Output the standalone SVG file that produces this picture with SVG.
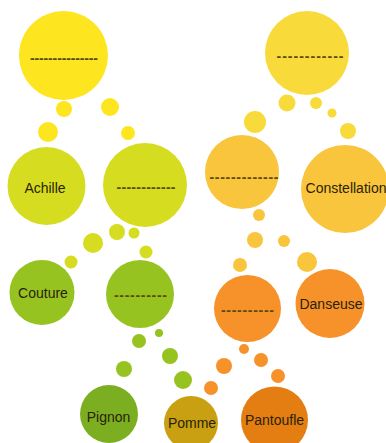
<svg xmlns="http://www.w3.org/2000/svg" width="386" height="443" viewBox="0 0 386 443">
<style>
  text { font-family: "Liberation Sans", Arial, sans-serif; font-size: 14px; text-anchor: middle; fill: #2a2208; }
  .dash { fill: #5a4a10; font-weight: bold; }
  .y1 { fill: #FDE61F; }
  .y2 { fill: #F8DB3B; }
  .yg { fill: #D6DC1F; }
  .gold { fill: #F9C53C; }
  .g1 { fill: #97C321; }
  .g2 { fill: #7CAE22; }
  .olive { fill: #C9A011; }
  .o1 { fill: #F7922B; }
  .o2 { fill: #E47E12; }
</style>
<rect width="386" height="443" fill="#ffffff"/>
<g id="connectors">
  <circle class="y1" cx="64" cy="109" r="8"/>
  <circle class="y1" cx="110" cy="107" r="9"/>
  <circle class="y1" cx="48" cy="132" r="10"/>
  <circle class="y1" cx="128" cy="133" r="7"/>
  <circle class="y2" cx="287" cy="103" r="8.5"/>
  <circle class="y2" cx="316" cy="103" r="6"/>
  <circle class="y2" cx="332" cy="113" r="4.5"/>
  <circle class="y2" cx="348" cy="131" r="8"/>
  <circle class="y2" cx="255" cy="122" r="11"/>
  <circle class="yg" cx="93" cy="243" r="10"/>
  <circle class="yg" cx="117" cy="232" r="8"/>
  <circle class="yg" cx="134" cy="233" r="5.5"/>
  <circle class="yg" cx="146" cy="252" r="6.5"/>
  <circle class="yg" cx="71" cy="262" r="6.5"/>
  <circle class="gold" cx="259" cy="215" r="6"/>
  <circle class="gold" cx="255" cy="240" r="8"/>
  <circle class="gold" cx="284" cy="241" r="6"/>
  <circle class="gold" cx="307" cy="262" r="10"/>
  <circle class="gold" cx="240" cy="265" r="7"/>
  <circle class="g1" cx="139" cy="341" r="7"/>
  <circle class="g1" cx="159" cy="333" r="4"/>
  <circle class="g1" cx="170" cy="356" r="8"/>
  <circle class="g1" cx="124" cy="369" r="8"/>
  <circle class="g1" cx="183" cy="380" r="9"/>
  <circle class="o1" cx="244" cy="349" r="5"/>
  <circle class="o1" cx="224" cy="366" r="8"/>
  <circle class="o1" cx="261" cy="360" r="7"/>
  <circle class="o1" cx="278" cy="376" r="7"/>
  <circle class="o1" cx="211" cy="388" r="7"/>
</g>
<g id="node-top-left">
  <circle class="y1" cx="63.5" cy="55.5" r="44.5"/>
  <text class="dash" x="64" y="63" textLength="68" lengthAdjust="spacing">---------------</text>
</g>
<g id="node-top-right">
  <circle class="y2" cx="307" cy="53" r="42"/>
  <text class="dash" x="310" y="61" textLength="67" lengthAdjust="spacing">------------</text>
</g>
<g id="node-achille">
  <circle class="yg" cx="46.5" cy="186" r="39"/>
  <text x="45" y="193">Achille</text>
</g>
<g id="node-mid-left">
  <circle class="yg" cx="145" cy="185" r="42"/>
  <text class="dash" x="146" y="192" textLength="59" lengthAdjust="spacing">------------</text>
</g>
<g id="node-mid-right">
  <circle class="gold" cx="242" cy="172" r="37"/>
  <text class="dash" x="244" y="182" textLength="69" lengthAdjust="spacing">-------------</text>
</g>
<g id="node-constellation">
  <circle class="gold" cx="345" cy="189" r="44"/>
  <text x="346" y="193">Constellation</text>
</g>
<g id="node-couture">
  <circle class="g1" cx="42" cy="292.5" r="32.5"/>
  <text x="43" y="298">Couture</text>
</g>
<g id="node-green">
  <circle class="g1" cx="140" cy="294" r="34"/>
  <text class="dash" x="140.5" y="300" textLength="53" lengthAdjust="spacing">----------</text>
</g>
<g id="node-orange">
  <circle class="o1" cx="247.5" cy="308.5" r="33.5"/>
  <text class="dash" x="247.5" y="315" textLength="53" lengthAdjust="spacing">----------</text>
</g>
<g id="node-danseuse">
  <circle class="o1" cx="330" cy="303.5" r="34.5"/>
  <text x="331" y="309">Danseuse</text>
</g>
<g id="node-pignon">
  <circle class="g2" cx="109" cy="414" r="29"/>
  <text x="108.5" y="422">Pignon</text>
</g>
<g id="node-pomme">
  <circle class="olive" cx="191" cy="423" r="27"/>
  <text x="192" y="428">Pomme</text>
</g>
<g id="node-pantoufle">
  <circle class="o2" cx="274.5" cy="420" r="33.5"/>
  <text x="274.5" y="425">Pantoufle</text>
</g>
</svg>
